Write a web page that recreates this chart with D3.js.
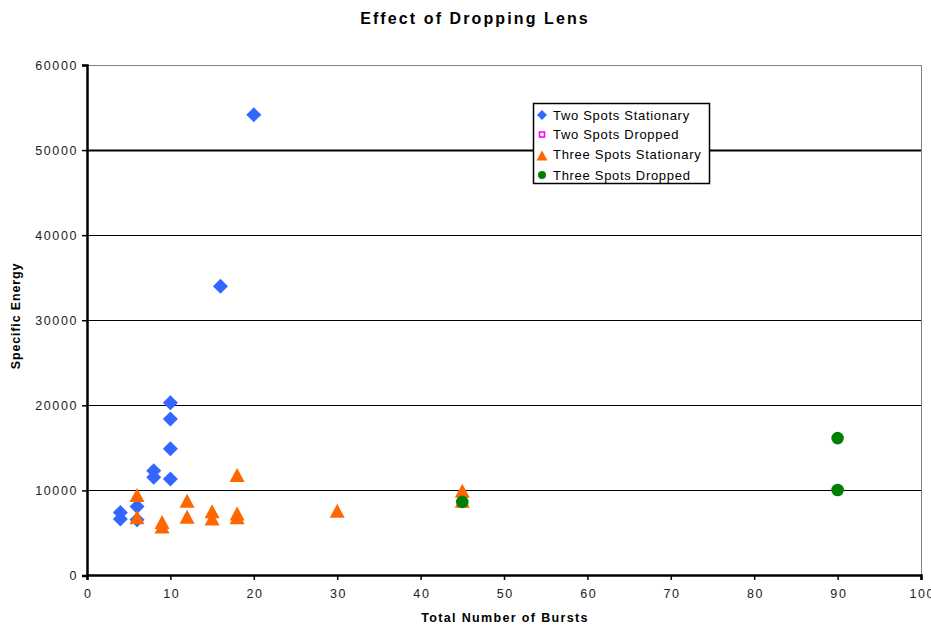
<!DOCTYPE html>
<html>
<head>
<meta charset="utf-8">
<script src="https://cdn.jsdelivr.net/npm/d3@7"></script>
<style>
body{margin:0;background:#fff;}
svg{font-family:"Liberation Sans",Arial,sans-serif;}
</style>
</head>
<body>
<svg id="chart" width="931" height="627"></svg>
<script>
const title = "Effect of Dropping Lens";
const xLabel = "Total Number of Bursts";
const yLabel = "Specific Energy";
const seriesNames = ["Two Spots Stationary","Two Spots Dropped","Three Spots Stationary","Three Spots Dropped"];
const xTicks = [0,10,20,30,40,50,60,70,80,90,100];
const yTicks = [0,10000,20000,30000,40000,50000,60000];

const twoStatX = [4,4,6,6,8,8,10,10,10,10,16,20];
const twoStatY = [7400,6650,8100,6550,12300,11550,20300,18400,14900,11350,34000,54150];
const twoDropX = [];
const twoDropY = [];
const threeStatX = [6,6,9,9,12,12,15,15,18,18,18,30,45,45];
const threeStatY = [9450,6850,6300,5750,8800,6900,7550,6700,11800,7300,6850,7600,9950,8800];
const threeDropX = [45,90,90];
const threeDropY = [8650,16150,10050];

const svg = d3.select("#chart");
const x = d3.scaleLinear().domain([0,100]).range([87,921]);
const y = d3.scaleLinear().domain([0,60000]).range([575.5,65]);

// gridlines
svg.append("g").selectAll("line").data(yTicks.filter(d=>d>0 && d<60000)).join("line")
  .attr("x1",x(0)).attr("x2",x(100))
  .attr("y1",d=>Math.round(y(d))+0.5).attr("y2",d=>Math.round(y(d))+0.5)
  .attr("stroke","#000").attr("stroke-width",d=>d===50000?2:1);
// plot border top/right
svg.append("line").attr("x1",x(0)).attr("x2",x(100)+0.5).attr("y1",65.5).attr("y2",65.5).attr("stroke","#808080");
svg.append("line").attr("x1",x(100)+0.5).attr("x2",x(100)+0.5).attr("y1",65.5).attr("y2",575).attr("stroke","#808080");

// axes
const xAxis = svg.append("g").attr("transform","translate(0,575)")
  .call(d3.axisBottom(x).tickValues(xTicks).tickSize(5).tickPadding(9).tickFormat(d3.format("d")));
const yAxis = svg.append("g").attr("transform","translate(87,0)")
  .call(d3.axisLeft(y).tickValues(yTicks).tickSize(5).tickPadding(4).tickFormat(d3.format("d")));
[xAxis,yAxis].forEach(a=>{
  a.select(".domain").attr("stroke","#000").attr("stroke-width",2.5);
  a.selectAll(".tick line").attr("stroke","#000").attr("stroke-width",1.5);
  a.selectAll(".tick text").attr("font-size",12.5).attr("fill","#222")
   .attr("letter-spacing","1.6px")
   .attr("font-family","\"Liberation Sans\",Arial,sans-serif");
});
xAxis.selectAll(".tick text").attr("dx","0.8px");

// markers
const diamondPath = s=>`M0,${-s}L${s},0L0,${s}L${-s},0Z`;
const triPath = (w,h)=>`M0,${-h/2}L${w/2},${h/2}L${-w/2},${h/2}Z`;

svg.append("g").selectAll("path").data(twoStatX.map((d,i)=>[d,twoStatY[i]])).join("path")
  .attr("d",diamondPath(7.5)).attr("fill","#3366FF")
  .attr("transform",d=>`translate(${x(d[0])},${y(d[1])})`);
svg.append("g").selectAll("rect").data(twoDropX.map((d,i)=>[d,twoDropY[i]])).join("rect")
  .attr("x",d=>x(d[0])-3).attr("y",d=>y(d[1])-3).attr("width",6).attr("height",6)
  .attr("fill","none").attr("stroke","#FF00FF").attr("stroke-width",2);
svg.append("g").selectAll("path").data(threeStatX.map((d,i)=>[d,threeStatY[i]])).join("path")
  .attr("d",triPath(15,14)).attr("fill","#FF6600")
  .attr("transform",d=>`translate(${x(d[0])},${y(d[1])})`);
svg.append("g").selectAll("circle").data(threeDropX.map((d,i)=>[d,threeDropY[i]])).join("circle")
  .attr("cx",d=>x(d[0])).attr("cy",d=>y(d[1])).attr("r",6.3).attr("fill","#008000");

// legend
const lg = svg.append("g");
lg.append("rect").attr("x",533.5).attr("y",103.5).attr("width",176).attr("height",80)
  .attr("fill","#fff").attr("stroke","#000").attr("stroke-width",1.5);
const rowsY = [115,134.5,154.5,175];
const lx = 542;
lg.append("path").attr("d",diamondPath(5)).attr("fill","#3366FF").attr("transform",`translate(${lx},${rowsY[0]})`);
lg.append("rect").attr("x",lx-2.5).attr("y",rowsY[1]-2.5).attr("width",5).attr("height",5)
  .attr("fill","none").attr("stroke","#FF00FF").attr("stroke-width",1.6);
lg.append("path").attr("d",triPath(11,10)).attr("fill","#FF6600").attr("transform",`translate(${lx},${rowsY[2]+1})`);
lg.append("circle").attr("cx",lx).attr("cy",rowsY[3]).attr("r",4).attr("fill","#008000");
lg.selectAll("text").data(seriesNames).join("text")
  .attr("x",553).attr("y",(d,i)=>rowsY[i]).attr("dy","0.35em")
  .attr("font-size",13).attr("letter-spacing","0.7px").attr("fill","#000").text(d=>d);

// titles
svg.append("text").attr("x",475).attr("y",24).attr("text-anchor","middle")
  .attr("font-size",16).attr("font-weight","bold").attr("letter-spacing","2.1px").text(title);
svg.append("text").attr("x",505).attr("y",622).attr("text-anchor","middle")
  .attr("font-size",12.5).attr("font-weight","bold").attr("letter-spacing","1.35px").text(xLabel);
svg.append("text").attr("transform","translate(20,316) rotate(-90)").attr("text-anchor","middle")
  .attr("font-size",12.5).attr("font-weight","bold").attr("letter-spacing","0.85px").text(yLabel);
</script>
</body>
</html>
